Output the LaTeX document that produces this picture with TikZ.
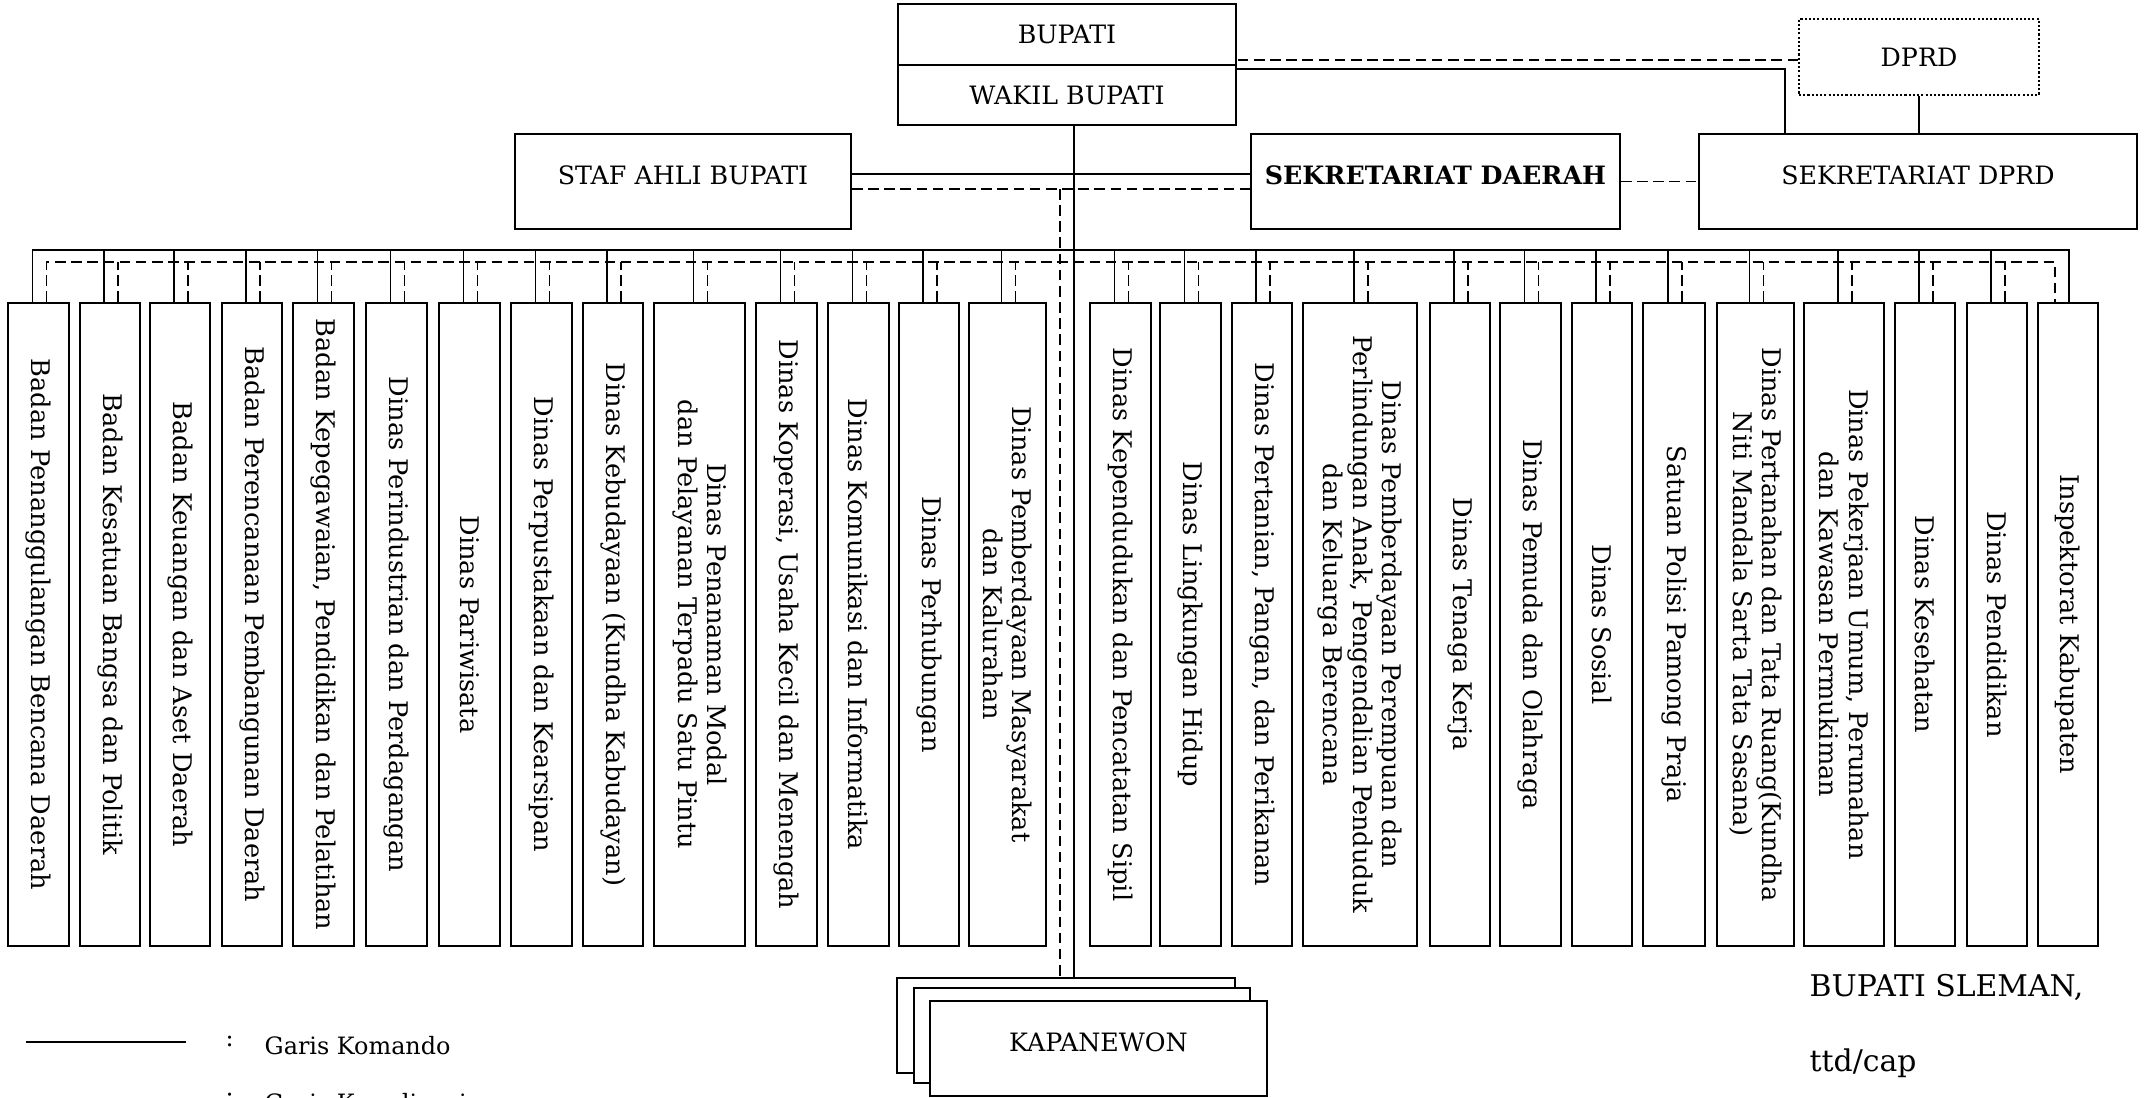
\documentclass[tikz,border=0pt]{standalone}
\usepackage{fontspec}
\setmainfont{DejaVu Serif}
\usetikzlibrary{positioning}

\begin{document}
\begin{tikzpicture}[
  box/.style={draw, line width=0.55pt, inner sep=0pt, fill=white,
              font=\fontsize{7.2}{8.6}\selectfont},
  high/.style={text depth=0.12cm},
  unit/.style={draw, line width=0.55pt, inner sep=0pt, minimum height=6.43cm},
  vtxt/.style={rotate=-90, align=center, inner sep=0pt,
               font=\fontsize{7.3}{8.3}\selectfont},
  cmd/.style={line width=0.5pt},
  crd/.style={line width=0.5pt, dash pattern=on 3pt off 1.6pt},
  note/.style={font=\fontsize{6.8}{8}\selectfont, anchor=base west, inner sep=0pt},
  sign/.style={font=\fontsize{8.5}{10}\selectfont, anchor=base west, inner sep=0pt},
]

% page
\useasboundingbox (0,0) rectangle (21.56,-10.98);
\fill[white] (0,0) rectangle (21.56,-10.98);

% ─── top: bupati, dprd, secretariats ────────────────────────────────────────
\node[box, minimum width=3.38cm, minimum height=0.61cm] (bupati) at (10.67,-0.345) {BUPATI};
\node[box, minimum width=3.38cm, minimum height=0.60cm] (wakil) at (10.67,-0.95) {WAKIL BUPATI};
\node[box, dash pattern=on 0.6pt off 0.6pt, minimum width=2.40cm, minimum height=0.76cm]
      (dprd) at (19.19,-0.57) {DPRD};

\node[box, high, minimum width=3.36cm, minimum height=0.95cm] (staf) at (6.83,-1.815) {STAF AHLI BUPATI};
\node[box, high, minimum width=3.69cm, minimum height=0.95cm,
      font=\fontsize{7.2}{8.6}\selectfont\bfseries] (sekda) at (14.355,-1.815) {SEKRETARIAT DAERAH};
\node[box, high, minimum width=4.38cm, minimum height=0.95cm] (sekdprd) at (19.18,-1.815) {SEKRETARIAT DPRD};

% ─── kapanewon stack (back to front) ────────────────────────────────────────
\node[box, minimum width=3.38cm, minimum height=0.95cm] (kap3) at (10.66,-10.255) {};
\node[box, minimum width=3.36cm, minimum height=0.95cm] (kap2) at (10.82,-10.355) {};
\node[box, high, minimum width=3.37cm, minimum height=0.95cm] (kap1) at (10.985,-10.485) {KAPANEWON};

% ─── perangkat daerah ───────────────────────────────────────────────────────
\foreach \n/\xa/\xb/\t in {
  1/0.08/0.69/{Badan Penanggulangan Bencana Daerah},
  2/0.80/1.40/{Badan Kesatuan Bangsa dan Politik},
  3/1.50/2.10/{Badan Keuangan dan Aset Daerah},
  4/2.22/2.82/{Badan Perencanaan Pembangunan Daerah},
  5/2.93/3.54/{Badan Kepegawaian, Pendidikan dan Pelatihan},
  6/3.66/4.27/{Dinas Perindustrian dan Perdagangan},
  7/4.39/5.00/{Dinas Pariwisata},
  8/5.11/5.72/{Dinas Perpustakaan dan Kearsipan},
  9/5.83/6.43/{Dinas Kebudayaan (Kundha Kabudayan)},
  10/6.54/7.45/{Dinas Penanaman Modal\\dan Pelayanan Terpadu Satu Pintu},
  11/7.56/8.17/{Dinas Koperasi, Usaha Kecil dan Menengah},
  12/8.28/8.89/{Dinas Komunikasi dan Informatika},
  13/8.99/9.59/{Dinas Perhubungan},
  14/9.69/10.46/{Dinas Pemberdayaan Masyarakat\\dan Kalurahan},
  15/10.90/11.51/{Dinas Kependudukan dan Pencatatan Sipil},
  16/11.60/12.21/{Dinas Lingkungan Hidup},
  17/12.32/12.92/{Dinas Pertanian, Pangan, dan Perikanan},
  18/13.03/14.17/{Dinas Pemberdayaan Perempuan dan\\Perlindungan Anak, Pengendalian Penduduk\\dan Keluarga Berencana},
  19/14.30/14.90/{Dinas Tenaga Kerja},
  20/15.00/15.61/{Dinas Pemuda dan Olahraga},
  21/15.72/16.32/{Dinas Sosial},
  22/16.43/17.05/{Satuan Polisi Pamong Praja},
  23/17.17/17.94/{Dinas Pertanahan dan Tata Ruang(Kundha\\Niti Mandala Sarta Tata Sasana)},
  24/18.04/18.84/{Dinas Pekerjaan Umum, Perumahan\\dan Kawasan Permukiman},
  25/18.95/19.55/{Dinas Kesehatan},
  26/19.67/20.27/{Dinas Pendidikan},
  27/20.38/20.98/{Inspektorat Kabupaten}}{
  \pgfmathsetmacro\bw{\xb-\xa}
  \pgfmathsetmacro\bx{(\xa+\xb)/2}
  \node[unit, minimum width=\bw cm] (b\n) at (\bx,-6.245) {};
  \node[vtxt] at (b\n) {\t};
}

% ─── garis komando / koordinasi ─────────────────────────────────────────────
\coordinate (spine) at ([xshift=0.7mm]wakil.south);
\draw[cmd] (spine) -- (spine |- kap3.north);
\coordinate (dspine) at (10.60,-1.89);
\draw[crd] (dspine) -- (dspine |- kap3.north);

\coordinate (cmdrow) at ([yshift=0.75mm]staf.east);
\coordinate (crdrow) at ([yshift=-0.75mm]staf.east);
\draw[cmd] (cmdrow) -- (cmdrow -| sekda.west);
\draw[crd] (crdrow) -- (crdrow -| sekda.west);
\draw[crd] (sekda.east) -- (sekdprd.west);

\coordinate (dprdin) at ([yshift=-0.3mm]dprd.west);
\draw[crd] (dprdin) -- (dprdin -| bupati.east);
\coordinate (elbow) at (17.85,-0.69);
\draw[cmd] (wakil.east |- elbow) -- (elbow) -- (elbow |- sekdprd.north);
\draw[cmd] (dprd.south) -- (dprd.south |- sekdprd.north);

% bars over the units
\draw[cmd] ([xshift=-0.6mm]b1.north) -- ++(0,0.52) -| ([xshift=0.1mm]b27.north);
\draw[crd] ([xshift=0.8mm]b1.north) -- ++(0,0.40) -| ([xshift=-1.3mm]b27.north);
\foreach \n in {2,...,26}{
  \draw[cmd] ([xshift=-0.6mm]b\n.north) -- ++(0,0.52);
  \draw[crd] ([xshift=0.8mm]b\n.north) -- ++(0,0.40);
}

% ─── legend + signature ─────────────────────────────────────────────────────
\coordinate (lg) at (0.26,-10.42);
\draw[cmd] (lg) -- ++(1.60,0);
\node[note] (colon1) at (2.25,-10.47) {:};
\node[note] (keyA) at (2.64,-10.55) {Garis Komando};
\node[note] (colon2) at (2.25,-11.04) {:};
\node[note] (keyB) at (2.64,-11.12) {Garis Koordinasi};

\node[sign] (sign1) at (18.09,-9.97) {BUPATI SLEMAN,};
\node[sign] (sign2) at (18.09,-10.72) {ttd/cap};

\end{tikzpicture}
\end{document}
